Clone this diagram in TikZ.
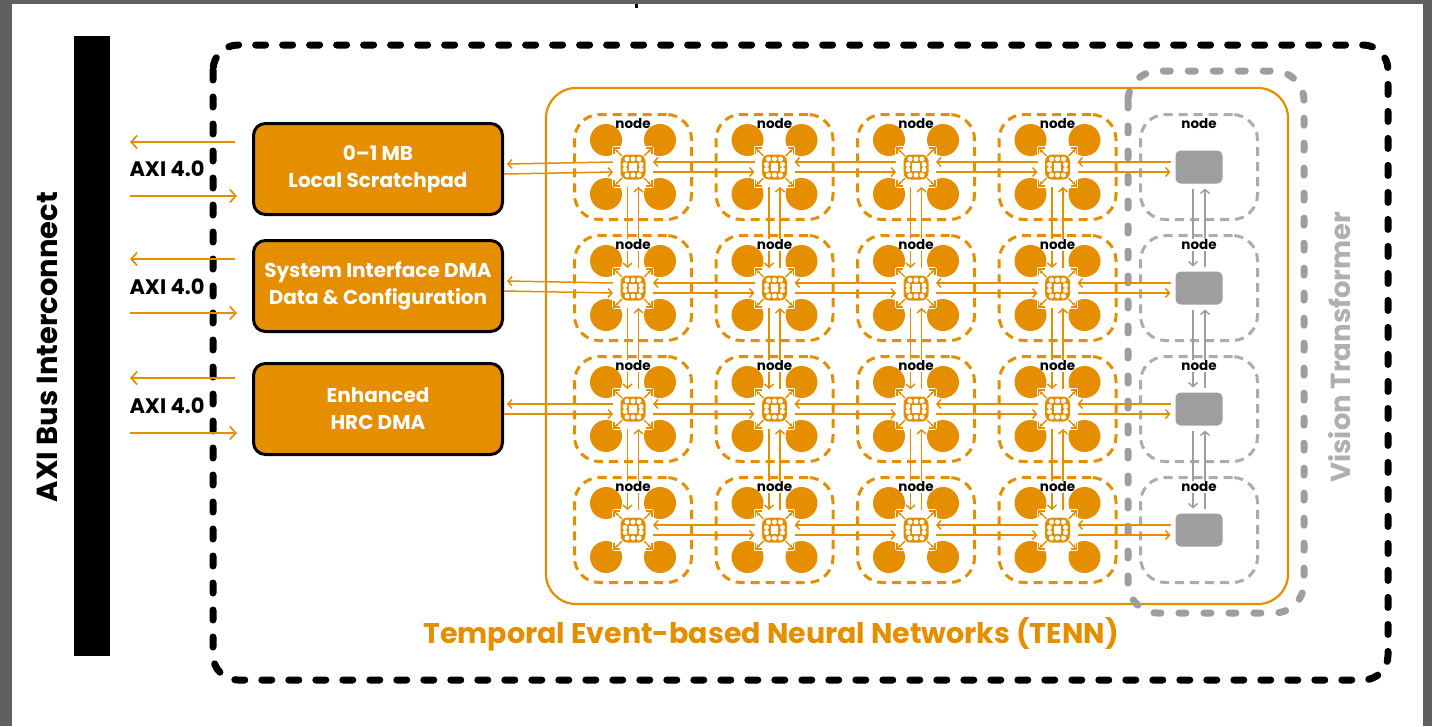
\documentclass[tikz,border=0pt]{standalone}
\usepackage{fontspec}
\setmainfont{Poppins}
\usetikzlibrary{arrows.meta,calc}
\definecolor{org}{RGB}{228,142,0}
\definecolor{vgray}{RGB}{158,158,158}
\definecolor{tgray}{RGB}{172,172,172}
\definecolor{lgray}{RGB}{175,175,175}
\definecolor{fgray}{RGB}{96,96,96}
\tikzset{
  mybarb/.tip={Straight Barb[length=4pt,width=9pt,line width=1.5pt]},
  bigbarb/.tip={Straight Barb[length=6pt,width=13pt,line width=1.7pt]},
  oline/.style={draw=org, line width=1.5pt},
  gline/.style={draw=vgray, line width=1.5pt},
  axiline/.style={draw=org, line width=1.7pt},
  otile/.style={draw=org, line width=3pt, dash pattern=on 9pt off 6pt, rounded corners=25pt, minimum width=117pt, minimum height=105pt, inner sep=0pt},
  gtile/.style={otile, draw=tgray},
  rnode/.style={circle, minimum size=40pt, inner sep=0pt, outer sep=0pt},
  gbox/.style={rectangle, rounded corners=5pt, fill=vgray, minimum width=47pt, minimum height=33pt, inner sep=0pt, outer sep=5pt},
  orbox/.style={rectangle, rounded corners=12pt, fill=org, draw=black, line width=3pt, minimum width=249pt, minimum height=91pt, text=white, align=center, font=\bfseries\fontsize{20}{27}\selectfont},
  lbl/.style={font=\bfseries\fontsize{13.5}{14}\selectfont, text=black, fill=white, inner sep=1pt},
  axilbl/.style={font=\bfseries\fontsize{21}{22}\selectfont, text=black},
  router/.pic={
    \foreach \sx/\sy in {-1/-1,1/-1,-1/1,1/1}{
      \fill[org] ({\sx*27},{\sy*27}) circle (16);
    }
    \foreach \sx/\sy in {-1/-1,1/-1,-1/1,1/1}{
      \draw[white, line width=3.5pt, line cap=round, line join=round] ({\sx*19},{\sy*13}) -- ({\sx*19},{\sy*19}) -- ({\sx*13},{\sy*19});
      \draw[org, line width=1.4pt] ({\sx*19},{\sy*13}) -- ({\sx*19},{\sy*19}) -- ({\sx*13},{\sy*19});
      \draw[org, line width=1.4pt] ({\sx*11},{\sy*11}) -- ({\sx*18},{\sy*18});
    }
    \fill[org, rounded corners=7pt] (-12.5,-12.5) rectangle (12.5,12.5);
    \fill[white] (-3.8,-3.8) rectangle (3.8,3.8);
    \foreach \px/\py in {-6/-8,0/-8,6/-8,-6/8,0/8,6/8,-8/-2.5,-8/2.5,8/-2.5,8/2.5}{
      \fill[white] (\px,\py) circle (2.5);
    }
  }
}
\begin{document}
\begin{tikzpicture}[x=1pt,y=-1pt]
\useasboundingbox (0,0) rectangle (1432,726);
\fill[fgray] (0,0) rectangle (1432,726);
\fill[white] (12,4) rectangle (1423,726);
\fill[black] (635,4) rectangle (638,8);

% bus bar
\node[fill=black, minimum width=36pt, minimum height=620pt, inner sep=0pt] (bus) at (92,346) {};
\node[rotate=90, font=\bfseries\fontsize{29}{31}\selectfont] (axitxt) at (47,347) {AXI Bus Interconnect};

% frames
\draw[black, line width=7pt, line cap=round, dash pattern=on 10pt off 17pt, rounded corners=25pt] (213,45) rectangle (1388,680);
\draw[org, line width=2.2pt, rounded corners=30pt] (546,88) rectangle (1288,604);
\draw[vgray, line width=7pt, line cap=round, dash pattern=on 7pt off 18pt, rounded corners=30pt] (1128,71) rectangle (1304,613);

\node[rotate=90, text=lgray, font=\bfseries\fontsize{27.5}{29}\selectfont] (vt) at (1340,347) {Vision Transformer};
\node[text=org, font=\bfseries\fontsize{28.5}{30}\selectfont] (tenn) at (771,634) {Temporal Event-based Neural Networks (TENN)};

% tiles and routers
\foreach \r/\cy in {1/167,2/288,3/409,4/530}{
  \foreach \c/\cx in {1/633,2/774.5,3/916,4/1057.5}{
    \node[otile] (t-\r-\c) at (\cx,\cy) {};
    \node[rnode] (r-\r-\c) at (\cx,\cy) {};
  }
  \node[gtile] (t-\r-5) at (1199,\cy) {};
  \node[gbox] (r-\r-5) at (1199,\cy) {};
}

% left boxes
\node[orbox] (b1) at (378,169) {0–1 MB\\Local Scratchpad};
\node[orbox] (b2) at (378,286) {System Interface DMA\\Data \& Configuration};
\node[orbox] (b3) at (378,409) {Enhanced\\HRC DMA};

% AXI arrows
\foreach \i/\yu/\yd/\yt in {1/142/196/169,2/259/313/287,3/378/433/406}{
  \coordinate (au\i) at (130,\yu);
  \coordinate (ad\i) at (130,\yd);
  \coordinate (bu\i) at (235,\yu);
  \coordinate (bd\i) at (237,\yd);
  \draw[axiline, -bigbarb] (bu\i) -- (au\i);
  \draw[axiline, -bigbarb] (ad\i) -- (bd\i);
  \node[axilbl] (axi\i) at (167,\yt) {AXI 4.0};
}

% box to router connectors
\foreach \i in {1,2,3}{
  \draw[oline, mybarb-] ($(b\i.east)+(3,-5)$) -- ($(r-\i-1.west)+(0,-5)$);
  \draw[oline, -mybarb] ($(b\i.east)+(0,5)$) -- ($(r-\i-1.west)+(0,5)$);
}

% horizontal connectors
\foreach \r in {1,2,3,4}{
  \foreach \c/\n in {1/2,2/3,3/4,4/5}{
    \draw[oline, mybarb-] ($(r-\r-\c.east)+(0,-5)$) -- ($(r-\r-\n.west)+(0,-5)$);
    \draw[oline, -mybarb] ($(r-\r-\c.east)+(0,5)$) -- ($(r-\r-\n.west)+(0,5)$);
  }
}
% vertical connectors
\foreach \r/\n in {1/2,2/3,3/4}{
  \foreach \c in {1,2,3,4}{
    \draw[oline, -mybarb] ($(r-\r-\c.south)+(-5.5,0)$) -- ($(r-\n-\c.north)+(-5.5,0)$);
    \draw[oline, mybarb-] ($(r-\r-\c.south)+(5.5,0)$) -- ($(r-\n-\c.north)+(5.5,0)$);
  }
  \draw[gline, -mybarb] ($(r-\r-5.south)+(-6,0)$) -- ($(r-\n-5.north)+(-6,0)$);
  \draw[gline, mybarb-] ($(r-\r-5.south)+(6,0)$) -- ($(r-\n-5.north)+(6,0)$);
}

% labels and router glyphs
\foreach \r/\cy in {1/167,2/288,3/409,4/530}{
  \foreach \c/\cx in {1/633,2/774.5,3/916,4/1057.5}{
    \node[lbl] (n-\r-\c) at (\cx,\cy-43) {node};
    \pic at (\cx,\cy) {router};
  }
  \node[lbl] (n-\r-5) at (1199,\cy-43) {node};
}
\end{tikzpicture}
\end{document}
